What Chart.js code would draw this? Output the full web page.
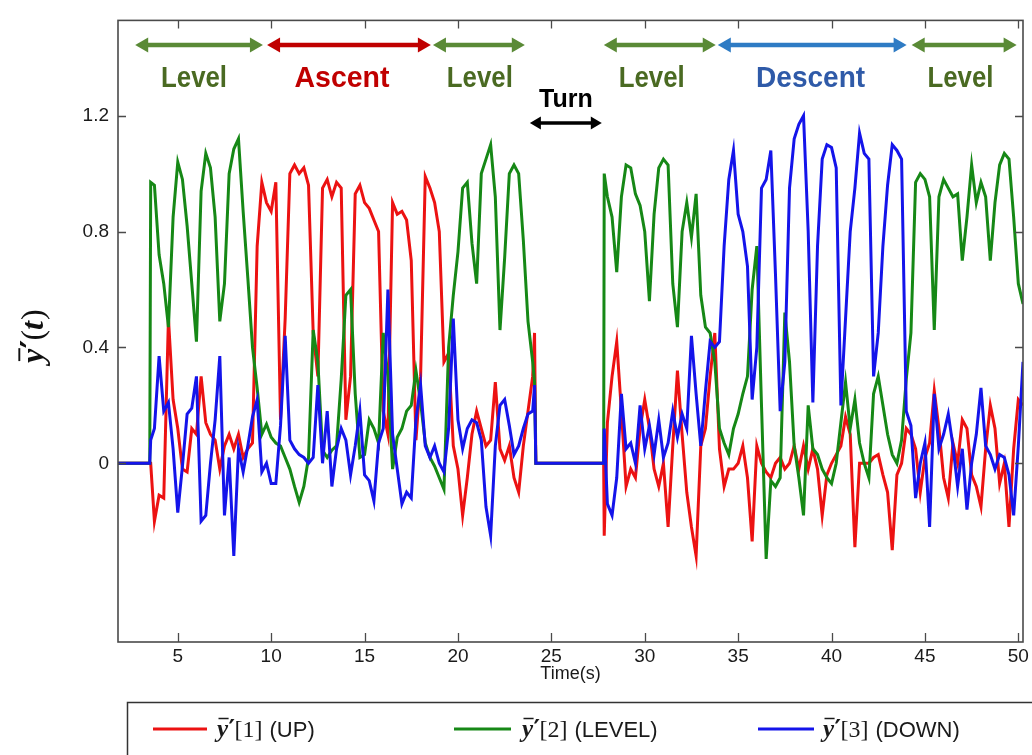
<!DOCTYPE html>
<html><head><meta charset="utf-8">
<script src="https://cdn.jsdelivr.net/npm/chart.js@4.4.1/dist/chart.umd.min.js"></script>
<style>html,body{margin:0;padding:0;background:#fff;}#wrap{width:1032px;height:755px;}</style>
</head><body><div id="wrap"><canvas id="c" width="1032" height="755"></canvas></div>
<script>
// ---- data (time in s) ----
const times = [1.8, 3.5, 3.55,
 3.75, 4, 4.25, 4.5, 4.75, 5, 5.25, 5.5, 5.75, 6, 6.25, 6.5, 6.75, 7, 7.25, 7.5, 7.75, 8, 8.25, 8.5, 8.75, 9,
 9.25, 9.5, 9.75, 10, 10.25, 10.5, 10.75, 11, 11.25, 11.5, 11.75, 12, 12.25, 12.5, 12.75, 13, 13.25, 13.5, 13.75, 14,
 14.25, 14.5, 14.75, 15, 15.25, 15.5, 15.75, 16, 16.25, 16.5, 16.75, 17, 17.25, 17.5, 17.75, 18, 18.25, 18.5, 18.75, 19,
 19.25, 19.5, 19.75, 20, 20.25, 20.5, 20.75, 21, 21.25, 21.5, 21.75, 22, 22.25, 22.5, 22.75, 23, 23.25, 23.5, 23.75, 24,
 24.1, 24.17, 27.8, 27.83,
 28, 28.25, 28.5, 28.75, 29, 29.25, 29.5, 29.75, 30, 30.25, 30.5, 30.75, 31, 31.25, 31.5, 31.75, 32, 32.25, 32.5, 32.75,
 33, 33.25, 33.5, 33.75, 34, 34.25, 34.5, 34.75, 35, 35.25, 35.5, 35.75, 36, 36.25, 36.5, 36.75, 37, 37.25, 37.5, 37.75,
 38, 38.25, 38.5, 38.75, 39, 39.25, 39.5, 39.75, 40, 40.25, 40.5, 40.75, 41, 41.25, 41.5, 41.75, 42, 42.25, 42.5, 42.75,
 43, 43.25, 43.5, 43.75, 44, 44.25, 44.5, 44.75, 45, 45.25, 45.5, 45.75, 46, 46.25, 46.5, 46.75, 47, 47.25, 47.5, 47.75,
 48, 48.25, 48.5, 48.75, 49, 49.25, 49.5, 49.75, 50, 50.25];

const upValues = [0, 0, 0.0,
 -0.20, -0.11, -0.12, 0.50, 0.22, 0.12, -0.02, -0.03, 0.12, 0.10, 0.30, 0.14, 0.10, 0.08, -0.02, 0.06, 0.10, 0.05, 0.10, 0.02, 0.05, 0.07,
 0.75, 0.97, 0.90, 0.87, 0.97, 0.15, 0.50, 1.00, 1.03, 1.00, 1.02, 0.96, 0.45, 0.30, 0.95, 0.98, 0.92, 0.97, 0.95, 0.15,
 0.30, 0.93, 0.96, 0.90, 0.88, 0.84, 0.80, 0.18, 0.10, 0.90, 0.86, 0.87, 0.84, 0.70, 0.08, 0.30, 0.99, 0.95, 0.90, 0.80,
 0.35, 0.38, 0.06, -0.02, -0.18, -0.05, 0.10, 0.18, 0.12, 0.06, 0.08, 0.28, 0.05, 0.01, 0.06, -0.05, -0.10, 0.06, 0.18, 0.30,
 0.45, 0, 0, -0.25,
 0.14, 0.30, 0.42, 0.18, -0.08, -0.02, -0.05, 0.12, 0.22, 0.12, -0.02, -0.08, 0.00, -0.22, 0.06, 0.32, 0.10, -0.10, -0.22, -0.32,
 0.06, 0.12, 0.30, 0.45, 0.05, -0.08, -0.02, -0.02, 0.00, 0.06, -0.05, -0.27, 0.06, 0.00, -0.03, -0.05, 0.00, 0.02, -0.02, 0.00,
 0.06, -0.02, 0.06, -0.02, 0.05, -0.02, -0.18, -0.04, 0.00, 0.03, 0.06, 0.16, 0.10, -0.29, 0.00, 0.00, 0.00, 0.02, 0.03, -0.04,
 -0.10, -0.30, -0.04, 0.00, 0.12, 0.10, 0.05, -0.10, 0.02, 0.07, 0.25, 0.12, -0.05, -0.12, 0.07, 0.00, 0.15, 0.12, -0.04, -0.08,
 -0.15, 0.05, 0.20, 0.12, -0.07, 0.00, -0.22, 0.05, 0.22, 0.20];

const levelValues = [0, 0, 0.97,
 0.96, 0.72, 0.62, 0.47, 0.85, 1.04, 0.98, 0.82, 0.62, 0.42, 0.94, 1.07, 1.02, 0.85, 0.49, 0.62, 1.00, 1.085, 1.12, 0.87, 0.64, 0.40,
 0.26, 0.10, 0.135, 0.09, 0.07, 0.06, 0.02, -0.02, -0.08, -0.135, -0.08, 0.02, 0.46, 0.35, 0.045, 0.02, 0.045, 0.06, 0.29, 0.58,
 0.60, 0.24, 0.02, 0.03, 0.15, 0.12, 0.07, 0.45, 0.30, -0.02, 0.09, 0.12, 0.18, 0.20, 0.32, 0.21, 0.07, 0.02, -0.01, -0.05,
 -0.09, 0.40, 0.58, 0.73, 0.95, 0.97, 0.76, 0.62, 1.00, 1.05, 1.10, 0.92, 0.46, 0.71, 1.00, 1.03, 1.00, 0.77, 0.49, 0.35,
 0.28, 0, 0, 1.00,
 0.92, 0.85, 0.66, 0.92, 1.03, 1.02, 0.93, 0.89, 0.80, 0.56, 0.86, 1.02, 1.05, 1.03, 0.62, 0.47, 0.80, 0.90, 0.78, 0.93,
 0.58, 0.47, 0.45, 0.35, 0.12, 0.07, 0.03, 0.12, 0.17, 0.24, 0.30, 0.60, 0.75, 0.20, -0.33, -0.06, -0.08, -0.05, 0.52, 0.35,
 0.06, -0.05, -0.18, 0.20, 0.05, 0.03, -0.02, -0.05, -0.07, 0.00, 0.14, 0.28, 0.12, 0.22, 0.07, 0.00, -0.05, 0.24, 0.30, 0.20,
 0.10, 0.03, 0.00, 0.08, 0.29, 0.45, 0.97, 1.00, 0.98, 0.92, 0.46, 0.92, 0.98, 0.95, 0.92, 0.93, 0.70, 0.85, 1.03, 0.90,
 0.97, 0.92, 0.70, 0.90, 1.03, 1.07, 1.05, 0.85, 0.62, 0.55];

const downValues = [0, 0, 0.08,
 0.12, 0.37, 0.18, 0.21, 0.05, -0.17, -0.01, 0.17, 0.19, 0.30, -0.20, -0.18, 0.00, 0.15, 0.37, -0.18, 0.02, -0.32, 0.05, -0.03, 0.06, 0.16,
 0.22, -0.03, 0.00, -0.07, -0.07, 0.13, 0.44, 0.08, 0.05, 0.03, 0.02, 0.00, 0.02, 0.27, 0.00, 0.18, -0.08, 0.05, 0.12, 0.08,
 -0.04, 0.06, 0.18, -0.04, -0.06, -0.13, 0.07, 0.12, 0.60, 0.10, -0.02, -0.14, -0.10, -0.12, 0.15, 0.27, 0.06, 0.02, 0.06, 0.00,
 -0.03, 0.12, 0.50, 0.15, 0.05, 0.12, 0.15, 0.14, 0.08, -0.15, -0.25, 0.06, 0.20, 0.22, 0.13, 0.03, 0.06, 0.12, 0.17, 0.18,
 0.27, 0, 0, 0.12,
 -0.14, -0.18, -0.05, 0.24, 0.05, 0.07, 0.00, 0.20, 0.05, 0.13, 0.03, 0.15, 0.02, 0.07, 0.18, 0.09, 0.17, 0.12, 0.44, 0.24,
 0.06, 0.25, 0.42, 0.40, 0.42, 0.75, 0.98, 1.08, 0.86, 0.80, 0.68, 0.22, 0.40, 0.95, 0.98, 1.08, 0.65, 0.18, 0.35, 0.95,
 1.12, 1.17, 1.20, 0.80, 0.21, 0.75, 1.05, 1.10, 1.09, 1.02, 0.20, 0.50, 0.80, 0.95, 1.14, 1.07, 1.05, 0.30, 0.45, 0.75,
 0.96, 1.10, 1.08, 1.05, 0.18, 0.13, -0.12, 0.00, 0.07, -0.22, 0.24, 0.05, 0.10, 0.17, 0.06, -0.08, 0.05, -0.16, 0.00, 0.10,
 0.26, 0.06, 0.03, -0.02, 0.03, 0.02, -0.04, -0.18, 0.06, 0.35];

const xTicks = [5, 10, 15, 20, 25, 30, 35, 40, 45, 50];
const yTicks = [0, 0.4, 0.8, 1.2];
const seriesNames = ['[1]', '[2]', '[3]'];
const seriesTags = ['(UP)', '(LEVEL)', '(DOWN)'];

// flight phases (time spans of the annotation arrows)
const phaseLabels = ['Level', 'Ascent', 'Level', 'Level', 'Descent', 'Level'];
const phaseStart  = [2.72, 9.78, 18.66, 27.81, 33.91, 44.29];
const phaseEnd    = [9.56, 18.55, 23.58, 33.80, 44.02, 49.91];
const phaseCenter = [5.87, 13.79, 21.17, 30.37, 38.88, 46.9];
const turnSpan = [23.85, 27.70];

// ---- styles ----
const RED = '#ec1212', GREEN = '#168816', BLUE = '#1414ea';
const phaseText = {Level:'#4a6a22', Ascent:'#c00000', Descent:'#2f5aa8'};
const phaseArrow = {Level:'#5a8a36', Ascent:'#c00000', Descent:'#2e7bc4'};
const phaseWidth = {Level:66, Ascent:95, Descent:109};

function pts(vals){ return times.map((t,i)=>({x:t, y:vals[i]})); }

function arrow(ctx, x1, x2, y, color, lw, head, hw){
  ctx.fillStyle = color; ctx.strokeStyle = color; ctx.lineWidth = lw;
  ctx.beginPath(); ctx.moveTo(x1+head-1, y); ctx.lineTo(x2-head+1, y); ctx.stroke();
  ctx.beginPath(); ctx.moveTo(x1, y); ctx.lineTo(x1+head, y-hw); ctx.lineTo(x1+head, y+hw); ctx.closePath(); ctx.fill();
  ctx.beginPath(); ctx.moveTo(x2, y); ctx.lineTo(x2-head, y-hw); ctx.lineTo(x2-head, y+hw); ctx.closePath(); ctx.fill();
}

// draws the "ȳ′" symbol; returns end x
function drawYBar(ctx, x, y, size, color){
  ctx.fillStyle = color; ctx.strokeStyle = color;
  ctx.font = `bold italic ${size}px "Liberation Serif", "DejaVu Serif", serif`;
  ctx.textAlign = 'left'; ctx.textBaseline = 'alphabetic';
  ctx.fillText('y', x, y);
  const w = ctx.measureText('y').width;
  ctx.lineWidth = Math.max(1.2, size*0.06);
  ctx.beginPath(); ctx.moveTo(x+size*0.06, y-size*0.74); ctx.lineTo(x+w+size*0.02, y-size*0.74); ctx.stroke();
  x += w + size*0.02;
  ctx.font = `bold ${size}px "DejaVu Serif", serif`;
  ctx.fillText('\u2032', x, y);
  x += ctx.measureText('\u2032').width*0.9;
  return x;
}

const framePlugin = {
  id:'frame',
  afterDatasetsDraw(chart){
    const {ctx, chartArea:a, scales:{x, y}} = chart;
    ctx.save();
    ctx.strokeStyle = '#4a4a4a'; ctx.lineWidth = 1.6;
    ctx.strokeRect(a.left, a.top, a.right-a.left, a.bottom-a.top);
    ctx.lineWidth = 1.3;
    ctx.beginPath();
    xTicks.forEach(v=>{ const px = Math.round(x.getPixelForValue(v))+0.5;
      ctx.moveTo(px, a.bottom); ctx.lineTo(px, a.bottom-9); ctx.moveTo(px, a.top); ctx.lineTo(px, a.top+8); });
    yTicks.forEach(v=>{ const py = Math.round(y.getPixelForValue(v))+0.5;
      ctx.moveTo(a.left, py); ctx.lineTo(a.left+8, py); ctx.moveTo(a.right, py); ctx.lineTo(a.right-8, py); });
    ctx.stroke();
    ctx.restore();
  },
  afterDraw(chart){
    const {ctx, scales:{x}} = chart;
    ctx.save();
    // phase arrows and labels
    phaseLabels.forEach((lab,i)=>{
      const x1 = x.getPixelForValue(phaseStart[i]), x2 = x.getPixelForValue(phaseEnd[i]);
      arrow(ctx, x1, x2, 45, phaseArrow[lab], 4.5, 13, 7.5);
      ctx.fillStyle = phaseText[lab];
      ctx.font = 'bold 30px "Liberation Sans Narrow", "Liberation Sans", Arial, sans-serif';
      ctx.textAlign = 'center'; ctx.textBaseline = 'alphabetic';
      ctx.fillText(lab, x.getPixelForValue(phaseCenter[i]), 87, phaseWidth[lab]);
    });
    // turn
    const t1 = x.getPixelForValue(turnSpan[0]), t2 = x.getPixelForValue(turnSpan[1]);
    arrow(ctx, t1, t2, 123, '#000', 3.5, 11, 6.5);
    ctx.fillStyle = '#000';
    ctx.font = 'bold 25px "Liberation Sans Narrow", "Liberation Sans", Arial, sans-serif';
    ctx.textAlign = 'center';
    ctx.fillText('Turn', (t1+t2)/2, 107, 59);

    // y axis title
    ctx.save();
    ctx.translate(43, 337);
    ctx.rotate(-Math.PI/2);
    const size = 32;
    ctx.font = `bold italic ${size}px "Liberation Serif", serif`;
    let w = ctx.measureText('y').width;
    ctx.font = `bold ${size}px "DejaVu Serif", serif`;
    w += ctx.measureText('\u2032').width*0.9;
    ctx.font = `${size}px "Liberation Serif", serif`;
    w += ctx.measureText('()').width;
    ctx.font = `bold italic ${size}px "Liberation Serif", serif`;
    w += ctx.measureText('t').width;
    let cx = -w/2;
    cx = drawYBar(ctx, cx, 0, size, '#111');
    ctx.font = `${size}px "Liberation Serif", serif`;
    ctx.fillText('(', cx, 0); cx += ctx.measureText('(').width;
    ctx.font = `bold italic ${size}px "Liberation Serif", serif`;
    ctx.fillText('t', cx, 0); cx += ctx.measureText('t').width + 1;
    ctx.font = `${size}px "Liberation Serif", serif`;
    ctx.fillText(')', cx, 0);
    ctx.restore();

    // legend box
    ctx.strokeStyle = '#333'; ctx.lineWidth = 1.5;
    ctx.strokeRect(127.5, 702.5, 1000, 80);
    const cols = [RED, GREEN, BLUE];
    const lineX = [[153, 207], [454, 511], [758, 814]];
    const textX = [217, 522, 823];
    cols.forEach((c,i)=>{
      ctx.strokeStyle = c; ctx.lineWidth = 3;
      ctx.beginPath(); ctx.moveTo(lineX[i][0], 729); ctx.lineTo(lineX[i][1], 729); ctx.stroke();
      let tx = drawYBar(ctx, textX[i], 737, 25, '#1a1a1a');
      ctx.font = '24px "Liberation Serif", serif';
      ctx.fillText(seriesNames[i], tx, 737); tx += ctx.measureText(seriesNames[i]).width + 7;
      ctx.font = '22px "Liberation Sans", Arial, sans-serif';
      ctx.fillText(seriesTags[i], tx, 737);
    });
    ctx.restore();
  }
};

new Chart(document.getElementById('c').getContext('2d'), {
  type: 'line',
  data: { datasets: [
    { label: 'DOWN', data: pts(downValues), borderColor: BLUE, order: 1 },
    { label: 'LEVEL', data: pts(levelValues), borderColor: GREEN, order: 2 },
    { label: 'UP', data: pts(upValues), borderColor: RED, order: 3 }
  ]},
  options: {
    responsive: false, animation: false, devicePixelRatio: 1,
    layout: { padding: { top: 9, right: 9, left: 0, bottom: 0 } },
    plugins: { legend: { display: false }, tooltip: { enabled: false } },
    elements: { point: { radius: 0 }, line: { borderWidth: 3, tension: 0, borderJoinStyle: 'miter', fill: false } },
    scales: {
      x: { type: 'linear', min: 1.8, max: 50.25,
        afterBuildTicks: s => { s.ticks = xTicks.map(v => ({ value: v })); },
        afterFit: s => { s.height = 113; },
        grid: { display: false, drawTicks: false }, border: { display: false },
        ticks: { padding: 3, color: '#1a1a1a', maxRotation: 0, autoSkip: false,
          font: { family: '"Liberation Sans", Arial, sans-serif', size: 19 } },
        title: { display: true, text: 'Time(s)', color: '#1a1a1a',
          font: { family: '"Liberation Sans", Arial, sans-serif', size: 18 }, padding: { top: 0, bottom: 70 } }
      },
      y: { type: 'linear', min: -0.617, max: 1.529,
        afterBuildTicks: s => { s.ticks = yTicks.map(v => ({ value: v })); },
        afterFit: s => { s.width = 118; },
        grid: { display: false, drawTicks: false }, border: { display: false },
        ticks: { padding: 9, color: '#1a1a1a', callback: v => String(v),
          font: { family: '"Liberation Sans", Arial, sans-serif', size: 19 } }
      }
    }
  },
  plugins: [framePlugin]
});
</script></body></html>
